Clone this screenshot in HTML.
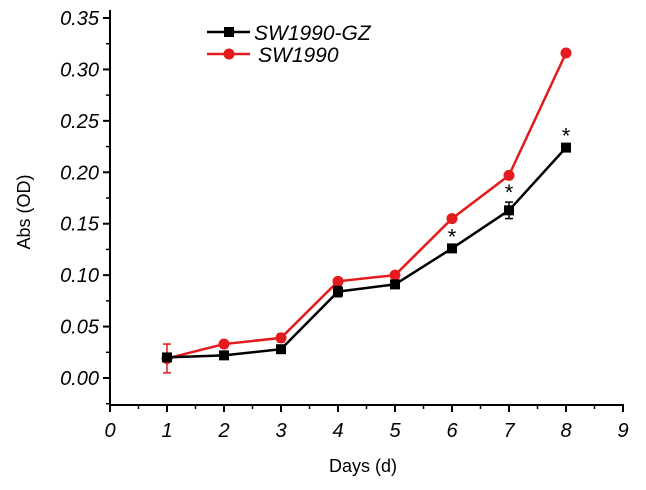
<!DOCTYPE html>
<html><head><meta charset="utf-8"><style>
body{margin:0;background:#fff;}
svg text{font-family:"Liberation Sans",Arial,sans-serif;}
</style></head><body>
<svg width="646" height="485" xmlns="http://www.w3.org/2000/svg">
<g id="axes"></g>
<g id="series"></g>
<g>
  <line x1="207" y1="32" x2="250" y2="32" stroke="#000" stroke-width="2.5"/>
  <rect x="224" y="27" width="10" height="10" fill="#000"/>
  <text x="254" y="40" font-size="21" font-style="italic">SW1990-GZ</text>
  <line x1="207" y1="54" x2="250" y2="54" stroke="#e41a1c" stroke-width="2.5"/>
  <circle cx="229" cy="54" r="5.5" fill="#e41a1c"/>
  <text x="258" y="62" font-size="21" font-style="italic">SW1990</text>
</g>
<text x="363" y="472" font-size="18" text-anchor="middle">Days (d)</text>
<text transform="translate(30,212) rotate(-90)" font-size="18" text-anchor="middle">Abs (OD)</text>
</svg>
<script>
const days=[1,2,3,4,5,6,7,8];
const gz=[0.020,0.022,0.028,0.084,0.091,0.126,0.163,0.224];
const gzErr=[0.003,0.002,0.002,0.005,0.002,0.002,0.008,0.002];
const sw=[0.019,0.033,0.039,0.094,0.100,0.155,0.197,0.316];
const swErr=[0.014,0.002,0.004,0.002,0.003,0.002,0.003,0.002];
const xTicks=[0,1,2,3,4,5,6,7,8,9];
const yTicks=[0,0.05,0.10,0.15,0.20,0.25,0.30,0.35];
const starDays=[6,7,8];
const NS='http://www.w3.org/2000/svg';
const X=d=>110+d*57;
const Y=v=>378-v*(360/0.35);
function mk(tag,attrs,parent){const e=document.createElementNS(NS,tag);for(const k in attrs)e.setAttribute(k,attrs[k]);parent.appendChild(e);return e;}
const ax=document.getElementById('axes');
let yl=mk('line',{x1:110,y1:10,x2:110,y2:405,stroke:'#000','stroke-width':2},ax);


let xl=mk('line',{x1:110,y1:405,x2:624,y2:405,stroke:'#000','stroke-width':2},ax);


xTicks.forEach(t=>{
  mk('line',{x1:X(t),y1:405,x2:X(t),y2:412,stroke:'#000','stroke-width':2},ax);
  if(t<9)mk('line',{x1:X(t+0.5),y1:405,x2:X(t+0.5),y2:409,stroke:'#000','stroke-width':1.5},ax);
  const tx=mk('text',{x:X(t),y:437,'font-size':20,'font-style':'italic','text-anchor':'middle'},ax);
  tx.textContent=t;
  
  
});
yTicks.forEach(t=>{
  mk('line',{x1:103,y1:Y(t),x2:110,y2:Y(t),stroke:'#000','stroke-width':2},ax);
  mk('line',{x1:106,y1:Y(t-0.025),x2:110,y2:Y(t-0.025),stroke:'#000','stroke-width':1.5},ax);
  const tx=mk('text',{x:99,y:Y(t)+7,'font-size':20,'font-style':'italic','text-anchor':'end'},ax);
  tx.textContent=t.toFixed(2);
  
  
});
const sg=document.getElementById('series');
function draw(vals,errs,color,shape,name){
  const g=mk('g',{},sg);
  
  
  mk('polyline',{points:days.map((d,i)=>X(d)+','+Y(vals[i])).join(' '),fill:'none',stroke:color,'stroke-width':2.5},g);
  days.forEach((d,i)=>{
    const x=X(d),y1=Y(vals[i]-errs[i]),y2=Y(vals[i]+errs[i]);
    mk('line',{x1:x,y1:y1,x2:x,y2:y2,stroke:color,'stroke-width':1.5},g);
    mk('line',{x1:x-4,y1:y1,x2:x+4,y2:y1,stroke:color,'stroke-width':1.5},g);
    mk('line',{x1:x-4,y1:y2,x2:x+4,y2:y2,stroke:color,'stroke-width':1.5},g);
    let p;
    if(shape==='sq')p=mk('rect',{x:x-5,y:Y(vals[i])-5,width:10,height:10,fill:color},g);
    else p=mk('circle',{cx:x,cy:Y(vals[i]),r:5.5,fill:color},g);
    
    
  });
}
draw(sw,swErr,'#e41a1c','circ','series-sw1990');
draw(gz,gzErr,'#000','sq','series-sw1990-gz');
starDays.forEach(d=>{
  const i=days.indexOf(d);
  const s=mk('text',{x:X(d),y:Y(gz[i]+gzErr[i])-2,'font-size':22,'text-anchor':'middle'},sg);
  s.textContent='*';
  
  
});
</script>
</body></html>
